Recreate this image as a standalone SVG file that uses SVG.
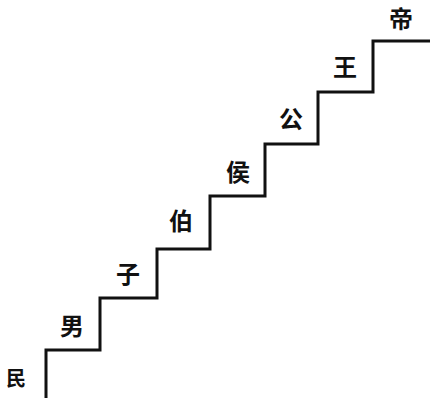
<svg xmlns="http://www.w3.org/2000/svg" width="431" height="401" viewBox="0 0 431 401">
<style>
.lbl{font-family:"Noto Sans CJK SC","Noto Sans CJK TC",sans-serif;font-weight:bold;font-size:24px;fill:#111;text-anchor:middle;dominant-baseline:central}
.stair{fill:none;stroke:#111;stroke-width:3;stroke-linejoin:miter}
</style>
<rect width="431" height="401" fill="#fff"/>
<g id="connectors">
<path class="stair" d="M46,398 V350 H100 V298 H157 V249 H210 V196 H265 V144 H318 V92 H373 V41 H430"/>
</g>
<g id="min"><text class="lbl" x="16" y="377" style="font-size:20px">民</text></g>
<g id="nan"><text class="lbl" x="72" y="324">男</text></g>
<g id="zi"><text class="lbl" x="128" y="272">子</text></g>
<g id="bo"><text class="lbl" x="181" y="219">伯</text></g>
<g id="hou"><text class="lbl" x="238" y="170">侯</text></g>
<g id="gong"><text class="lbl" x="291" y="117">公</text></g>
<g id="wang"><text class="lbl" x="345" y="65">王</text></g>
<g id="di"><text class="lbl" x="401" y="17">帝</text></g>
</svg>
